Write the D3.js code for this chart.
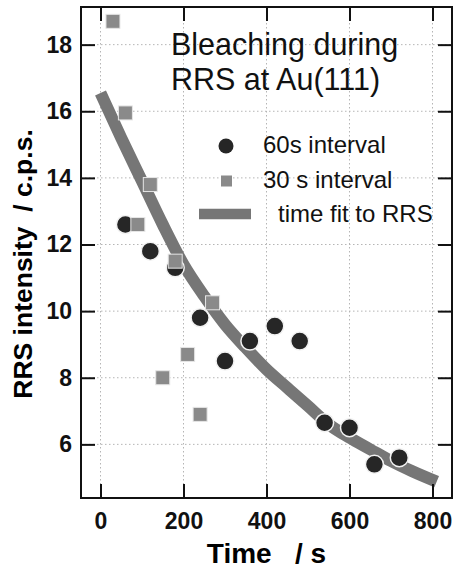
<!DOCTYPE html>
<html>
<head>
<meta charset="utf-8">
<script src="https://cdn.jsdelivr.net/npm/d3@7"></script>
<style>
	body { margin: 0; background: #fff; }
	svg { display: block; }
	text { font-family: "Liberation Sans", Arial, Helvetica, sans-serif; }
</style>
</head>
<body>
<div id="chart"></div>
<script>
// 60 s interval readings (dark circles)
var times60 = [60, 120, 180, 240, 300, 360, 420, 480, 540, 600, 660, 720]
var values60 = [12.6, 11.8, 11.3, 9.8, 8.5, 9.1, 9.55, 9.1, 6.65, 6.5, 5.4, 5.6]
// 30 s interval readings (grey squares)
var times30 = [30, 60, 90, 120, 150, 180, 210, 240, 270]
var values30 = [18.7, 15.95, 12.6, 13.8, 8.0, 11.5, 8.7, 6.9, 10.25]
// fit curve
var fitTimes = [0, 50, 100, 150, 200, 250, 300, 350, 400, 450, 500, 550, 600, 650, 700, 750, 810]
var fitValues = [16.55, 15.2, 13.9, 12.6, 11.4, 10.45, 9.6, 8.9, 8.25, 7.7, 7.15, 6.6, 6.2, 5.85, 5.5, 5.2, 4.88]

var xTicks = [0, 200, 400, 600, 800]
var yTicks = [6, 8, 10, 12, 14, 16, 18]
var titleLines = ['Bleaching during', 'RRS at Au(111)']
var legendLabels = ['60s interval', '30 s interval', 'time fit to RRS']

var W = 455, H = 570
var margin = {left: 81, top: 7, right: 3, bottom: 72}
var w = W - margin.left - margin.right
var h = H - margin.top - margin.bottom

var svg = d3.select('#chart').append('svg').attr('width', W).attr('height', H)
var g = svg.append('g').attr('transform', 'translate(' + margin.left + ',' + margin.top + ')')

var x = d3.scaleLinear().domain([-47, 847]).range([0, w])
var y = d3.scaleLinear().domain([4.39, 19.13]).range([h, 0])

// dotted grid
g.selectAll('.vgrid').data(xTicks).enter().append('line')
	.attr('x1', d => x(d)).attr('x2', d => x(d)).attr('y1', 0).attr('y2', h)
	.attr('stroke', '#b5b5b5').attr('stroke-width', 1).attr('stroke-dasharray', '1.5,2.5')
g.selectAll('.hgrid').data(yTicks).enter().append('line')
	.attr('y1', d => y(d)).attr('y2', d => y(d)).attr('x1', 0).attr('x2', w)
	.attr('stroke', '#b5b5b5').attr('stroke-width', 1).attr('stroke-dasharray', '1.5,2.5')

// fit curve
var fit = fitTimes.map((t, i) => [t, fitValues[i]])
g.append('path').datum(fit)
	.attr('d', d3.line().x(d => x(d[0])).y(d => y(d[1])).curve(d3.curveMonotoneX))
	.attr('fill', 'none').attr('stroke', '#767676').attr('stroke-width', 12)

// circles then squares on top
g.selectAll('.c60').data(times60).enter().append('circle')
	.attr('cx', d => x(d)).attr('cy', (d, i) => y(values60[i])).attr('r', 9)
	.attr('fill', '#262626').attr('stroke', '#f2f2f2').attr('stroke-width', 1.5)
var sq = 14
g.selectAll('.s30').data(times30).enter().append('rect')
	.attr('x', d => x(d) - sq / 2).attr('y', (d, i) => y(values30[i]) - sq / 2)
	.attr('width', sq).attr('height', sq)
	.attr('fill', '#8a8a8a').attr('stroke', '#e6e6e6').attr('stroke-width', 1)

// axes with inward ticks
var axB = g.append('g').attr('transform', 'translate(0,' + h + ')')
	.call(d3.axisBottom(x).tickValues(xTicks).tickSize(-14).tickSizeOuter(0).tickPadding(15))
var axL = g.append('g')
	.call(d3.axisLeft(y).tickValues(yTicks).tickSize(-14).tickSizeOuter(0).tickPadding(9))
g.append('g').call(d3.axisTop(x).tickValues(xTicks).tickSize(-14).tickSizeOuter(0).tickFormat(''))
g.append('g').attr('transform', 'translate(' + w + ',0)')
	.call(d3.axisRight(y).tickValues(yTicks).tickSize(-14).tickSizeOuter(0).tickFormat(''))
g.selectAll('.domain').remove()
g.selectAll('.tick line').attr('stroke', '#111').attr('stroke-width', 2)
g.selectAll('.tick text').attr('fill', '#111').style('font-size', '23px').style('font-weight', 'bold')

// frame
g.append('rect').attr('width', w).attr('height', h)
	.attr('fill', 'none').attr('stroke', '#111').attr('stroke-width', 2)

// axis titles
svg.append('text').attr('x', margin.left + w / 2).attr('y', 563).attr('text-anchor', 'middle')
	.style('font-size', '28px').style('font-weight', 'bold').style('white-space', 'pre')
	.text('Time   / s')
svg.append('text').attr('transform', 'translate(32,264) rotate(-90)').attr('text-anchor', 'middle')
	.style('font-size', '26.5px').style('font-weight', 'bold').style('white-space', 'pre')
	.text('RRS intensity  / c.p.s.')

// title
svg.selectAll('.title').data(titleLines).enter().append('text')
	.attr('x', 171).attr('y', (d, i) => 55 + i * 34.5)
	.style('font-size', '30.5px').attr('fill', '#111')
	.text(d => d)

// legend
svg.append('circle').attr('cx', 226).attr('cy', 146).attr('r', 7.5).attr('fill', '#262626')
svg.append('rect').attr('x', 221).attr('y', 175.5).attr('width', 11).attr('height', 11).attr('fill', '#8a8a8a')
svg.append('line').attr('x1', 199).attr('x2', 251).attr('y1', 214).attr('y2', 214)
	.attr('stroke', '#767676').attr('stroke-width', 10.5)
var legX = [263, 263, 278], legY = [153, 188, 222]
svg.selectAll('.leg').data(legendLabels).enter().append('text')
	.attr('x', (d, i) => legX[i]).attr('y', (d, i) => legY[i])
	.style('font-size', '24px').attr('fill', '#111')
	.text(d => d)
</script>
</body>
</html>
